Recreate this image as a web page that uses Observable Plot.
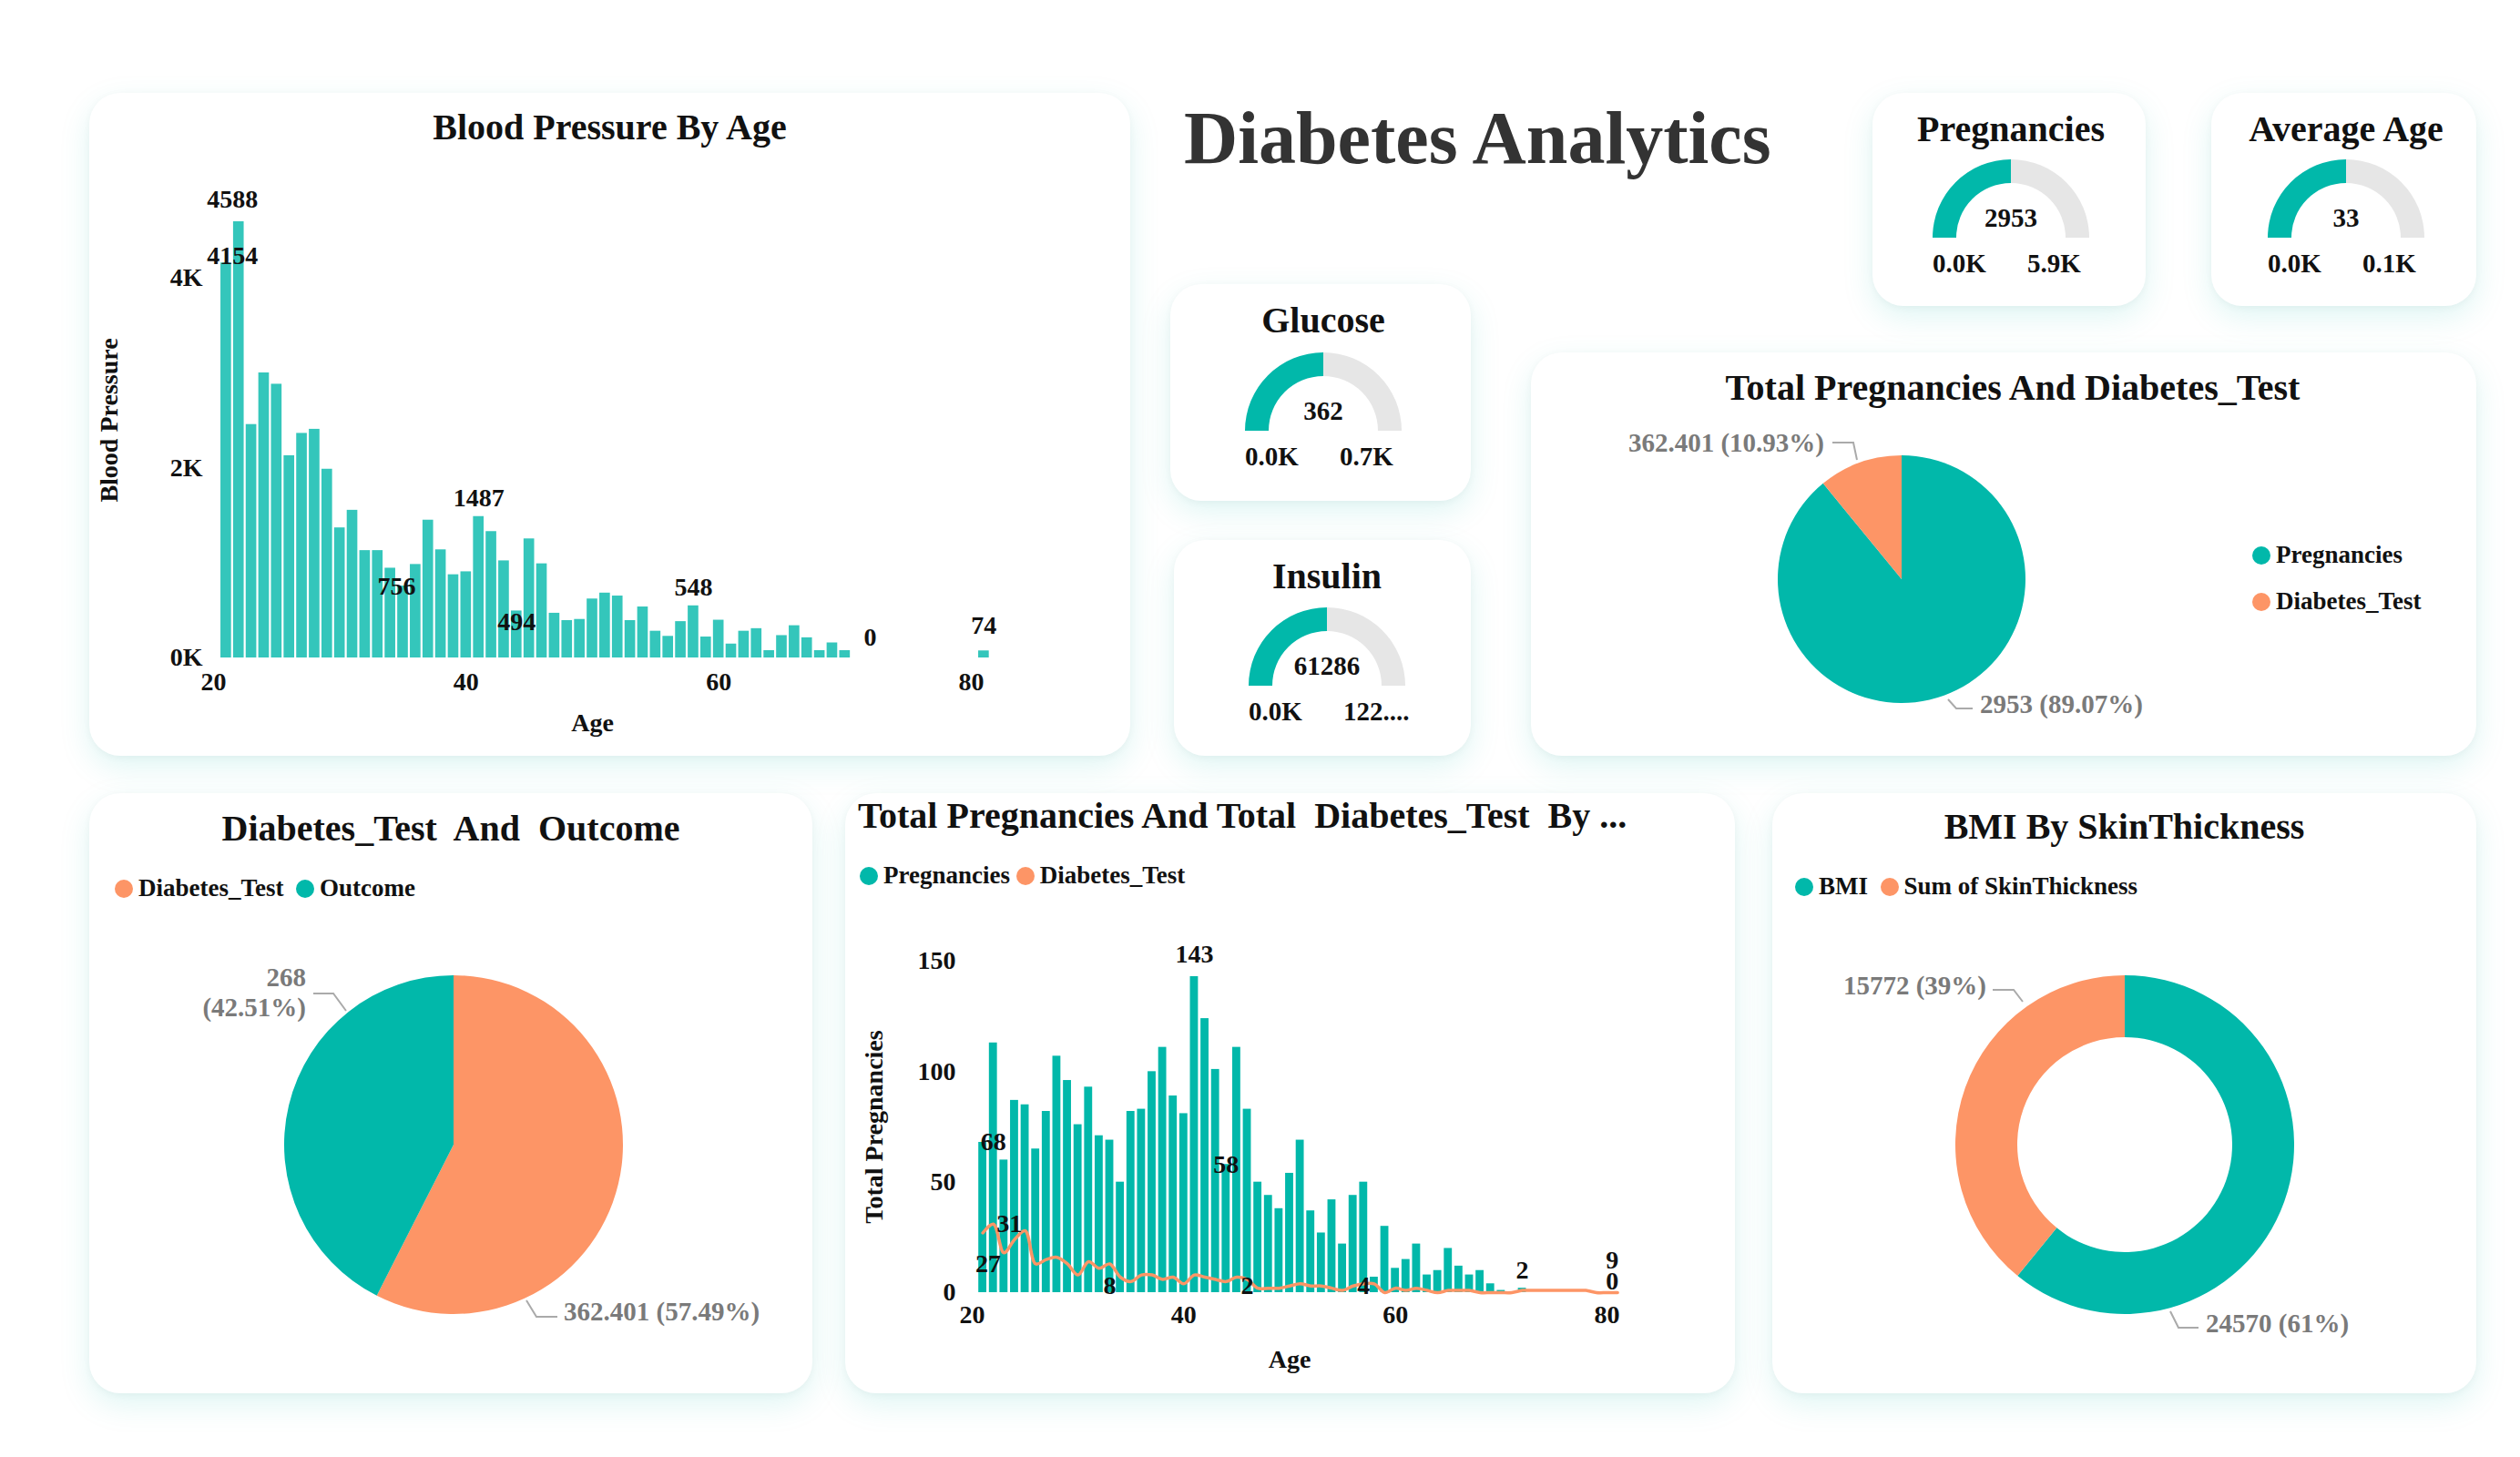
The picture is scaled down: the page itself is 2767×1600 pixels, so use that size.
<!DOCTYPE html>
<html><head><meta charset="utf-8">
<script src="https://cdn.jsdelivr.net/npm/d3@7"></script>
<script src="https://cdn.jsdelivr.net/npm/@observablehq/plot@0.6"></script>
<style>
body{margin:0;background:#fff;width:2767px;height:1600px;position:relative;overflow:hidden;font-family:"Liberation Serif",serif;font-weight:bold;color:#111}
.card{position:absolute;background:#fff;border-radius:34px;box-shadow:0 12px 34px rgba(1,184,170,0.13),0 2px 8px rgba(0,0,0,0.04)}
.t{position:absolute;font-size:40px;white-space:nowrap}
.abs{position:absolute}
svg{overflow:visible}
.lg{position:absolute;font-size:27px;white-space:nowrap;display:flex;align-items:center}
.dot{display:inline-block;width:20px;height:20px;border-radius:50%;margin-right:6px}
</style></head><body>
<script>
const TEAL="#01B8AA", ORANGE="#FD9566", BARTEAL="#34C6BB";
// ---------- data ----------
const bpAges = [...d3.range(21,71), 81];
const bpValues = [4154,4588,2455,2998,2879,2127,2362,2405,1985,1368,1553,1129,1129,944,756,983,1449,1137,875,906,1487,1329,1021,494,1252,990,470,393,405,620,682,651,393,536,281,227,382,548,220,397,146,281,308,77,235,339,212,77,158,77,74];
const bpLabels = [{age:21.5,v:4154,t:"4154",dy:-8},{age:21.5,v:4588,t:"4588",dy:-24},{age:34.5,v:756,t:"756",dy:0},{age:41,v:1487,t:"1487",dy:-20},{age:44,v:494,t:"494",dy:12},{age:58,v:548,t:"548",dy:-20},{age:72,v:0,t:"0",dy:-22},{age:81,v:74,t:"74",dy:-28}];
const pregAges = [...d3.range(21,71), 72];
const pregValues = [68,113,60,87,85,65,82,107,96,76,93,71,69,50,82,83,100,111,89,81,143,124,101,58,111,83,50,44,38,54,69,37,27,42,22,44,50,7,30,11,15,22,8,10,20,12,8,10,4,1,2];
const testAges = d3.range(21,82);
const testValues = [27,31,18,24,28,13,15,16,13,8,14,11,13,7,5,8,8,6,7,4,8,7,6,5,7,6,2,2,2,3,4,3,3,2,1,3,4,4,0,2,1,2,1,0,1,1,1,0,0,0,0,1,1,1,1,1,1,1,0,0,0];
const pregLabels = [{age:41,v:143,t:"143",dy:-24},{age:22,v:68,t:"68",dy:0},{age:44,v:58,t:"58",dy:0},{age:23.5,v:31,t:"31",dy:0},{age:21.5,v:13,t:"27",dy:0},{age:33,v:3,t:"8",dy:0},{age:46,v:3,t:"2",dy:0},{age:57,v:3,t:"4",dy:0},{age:72,v:2,t:"2",dy:-20},{age:80.5,v:9,t:"9",dy:-14},{age:80.5,v:0,t:"0",dy:-12}];
const pie1Cats = ["Pregnancies","Diabetes_Test"], pie1Vals = [2953, 362.401], pie1Labels=["2953 (89.07%)","362.401 (10.93%)"];
const pie2Cats = ["Diabetes_Test","Outcome"], pie2Vals = [362.401, 268], pie2Labels=["362.401 (57.49%)","268 (42.51%)"];
const pie3Cats = ["BMI","Sum of SkinThickness"], pie3Vals = [24570, 15772], pie3Labels=["24570 (61%)","15772 (39%)"];
const gaugeNames = ["Pregnancies","Average Age","Glucose","Insulin"];
const gaugeVals = [2953,33,362,61286];
const gaugeMax = [5906,66,724,122572];
const gaugeMaxLabels = ["5.9K","0.1K","0.7K","122...."];

// ---------- helpers ----------
function add(html){const d=document.createElement("div");d.innerHTML=html;while(d.firstChild)document.body.appendChild(d.firstChild);}
function place(el,x,y){const w=document.createElement("div");w.className="abs";w.style.left=x+"px";w.style.top=y+"px";w.appendChild(el);document.body.appendChild(w);}
const font = {fontFamily:"Liberation Serif",fontWeight:"bold"};

[[98,102,1143,728],[2056,102,300,234],[2428,102,291,234],[1285,312,330,238],[1289,593,326,237],[1681,387,1038,443],[98,871,794,659],[928,871,977,659],[1946,871,773,659]]
 .forEach(([x,y,w,h])=>add(`<div class="card" style="left:${x}px;top:${y}px;width:${w}px;height:${h}px"></div>`));

add(`<div class="t" style="left:1300px;top:105px;font-size:82px;color:#333">Diabetes Analytics</div>`);
add(`<div class="t" style="left:98px;width:1143px;text-align:center;top:116px">Blood Pressure By Age</div>`);
add(`<div class="t" style="left:942px;top:872px">Total Pregnancies And Total&nbsp; Diabetes_Test&nbsp; By ...</div>`);
add(`<div class="t" style="left:98px;width:794px;text-align:center;top:886px">Diabetes_Test&nbsp; And&nbsp; Outcome</div>`);
add(`<div class="t" style="left:1946px;width:773px;text-align:center;top:884px">BMI By SkinThickness</div>`);
add(`<div class="t" style="width:1100px;text-align:center;top:402px;left:1660px">Total Pregnancies And Diabetes_Test</div>`);

// ---------- Blood pressure ----------
const bpData = bpAges.map((a,i)=>({age:a,v:bpValues[i]}));
const bp = Plot.plot({
  width:1143,height:640,marginLeft:136,marginRight:175,marginTop:0,marginBottom:118,
  style:{...font,fontSize:"28px",color:"#111",background:"transparent",overflow:"visible"},
  x:{domain:[20,80],ticks:[20,40,60,80],label:"Age",labelArrow:"none",labelAnchor:"center",labelOffset:80,tickSize:0,tickPadding:16},
  y:{domain:[0,5000],ticks:[0,2000,4000],tickFormat:d=>(d/1000)+"K",label:"Blood Pressure",labelArrow:"none",labelAnchor:"center",tickSize:0,labelOffset:125,tickPadding:12},
  marks:[
    Plot.rectY(bpData,{x1:d=>d.age-0.42,x2:d=>d.age+0.42,y:"v",fill:BARTEAL}),
    ...bpLabels.map(l=>Plot.text([l],{x:"age",y:"v",text:"t",dy:l.dy,fontSize:28,fill:"#111"}))
  ]
});
place(bp,98,200);

// ---------- combo ----------
const pgData = pregAges.map((a,i)=>({age:a,v:pregValues[i]}));
const tsData = testAges.map((a,i)=>({age:a,v:testValues[i]}));
const pg = Plot.plot({
  width:977,height:520,marginLeft:139,marginRight:141,marginTop:55,marginBottom:101,
  style:{...font,fontSize:"28px",color:"#111",background:"transparent",overflow:"visible"},
  x:{domain:[20,80],ticks:[20,40,60,80],label:"Age",labelArrow:"none",labelAnchor:"center",labelOffset:82,tickSize:0,tickPadding:14},
  y:{domain:[0,150],ticks:[0,50,100,150],label:"Total Pregnancies",labelArrow:"none",labelAnchor:"center",tickSize:0,labelOffset:118,tickPadding:18},
  marks:[
    Plot.rectY(pgData,{x1:d=>d.age-0.38,x2:d=>d.age+0.38,y:"v",fill:TEAL}),
    Plot.line(tsData,{x:"age",y:"v",stroke:ORANGE,strokeWidth:3.5,curve:"catmull-rom"}),
    ...pregLabels.map(l=>Plot.text([l],{x:"age",y:"v",text:"t",dy:l.dy,fontSize:28,fill:"#111"}))
  ]
});
place(pg,928,1000);
add(`<div class="lg" style="left:944px;top:946px"><span class="dot" style="background:${TEAL}"></span>Pregnancies&nbsp;<span class="dot" style="background:${ORANGE}"></span>Diabetes_Test</div>`);

// ---------- pies ----------
function pie(cats,vals,colors,r,inner,w,h){
  const data = cats.map((c,i)=>({c,v:vals[i]}));
  const p = Plot.plot({
    width:w,height:h,margin:0,style:{...font,background:"transparent",overflow:"visible"},
    x:{domain:[0,1],axis:null},y:{domain:[0,1],axis:null},
    color:{domain:cats,range:colors},
    marks:[Plot.dot(data,{x:()=>0.5,y:()=>0.5,r:0,fill:"c"})]
  });
  const color = p.scale("color");
  const g=d3.select(p).append("g").attr("transform",`translate(${w/2},${h/2})`);
  const arcs=d3.pie().sort(null).value(d=>d.v)(data);
  const arc=d3.arc().innerRadius(inner).outerRadius(r);
  g.selectAll("path").data(arcs).join("path").attr("d",arc).attr("fill",d=>color.apply(d.data.c));
  return p;
}
function pieLabel(x,y,text,anchor){add(`<div class="t" style="font-size:29px;color:#7a7a7a;${anchor==="end"?"right:"+(2767-x):"left:"+x}px;top:${y}px;text-align:${anchor==="end"?"right":"left"}">${text}</div>`);}
place(pie(pie1Cats,pie1Vals,[TEAL,ORANGE],136,0,300,300),1938,486);
pieLabel(2003,470,pie1Labels[1],"end");
pieLabel(2174,757,pie1Labels[0],"start");
add(`<div class="lg" style="left:2473px;top:594px"><span class="dot" style="background:${TEAL}"></span>Pregnancies</div>`);
add(`<div class="lg" style="left:2473px;top:645px"><span class="dot" style="background:${ORANGE}"></span>Diabetes_Test</div>`);
place(pie(pie2Cats,pie2Vals,[ORANGE,TEAL],186,0,400,400),298,1057);
pieLabel(336,1057,"268<br>(42.51%)","end");
pieLabel(619,1424,pie2Labels[0],"start");
add(`<div class="lg" style="left:126px;top:960px"><span class="dot" style="background:${ORANGE}"></span>Diabetes_Test&nbsp;&nbsp;<span class="dot" style="background:${TEAL}"></span>Outcome</div>`);
place(pie(pie3Cats,pie3Vals,[TEAL,ORANGE],186,118,400,400),2133,1057);
pieLabel(2181,1066,pie3Labels[1],"end");
pieLabel(2422,1437,pie3Labels[0],"start");
add(`<div class="lg" style="left:1971px;top:958px"><span class="dot" style="background:${TEAL}"></span>BMI&nbsp;&nbsp;<span class="dot" style="background:${ORANGE}"></span>Sum of SkinThickness</div>`);
add(`<svg class="abs" style="left:0;top:0;position:absolute" width="2767" height="1600">
<g fill="none" stroke="#aaa" stroke-width="2">
<polyline points="2012,486 2035,486 2039,505"/><polyline points="2139,768 2148,778 2166,778"/>
<polyline points="344,1091 366,1091 380,1110"/><polyline points="578,1428 589,1446 612,1446"/>
<polyline points="2188,1087 2211,1087 2221,1100"/><polyline points="2383,1440 2392,1458 2414,1458"/>
</g></svg>`);

// ---------- gauges ----------
const gPos = [[2208,261,143],[2576,261,143],[1453,473,353],[1457,753,634]];
gaugeNames.forEach((n,i)=>{
  const [cx,cy,ty]=gPos[i];
  add(`<div class="t" style="left:${cx-200}px;width:400px;text-align:center;top:${ty-25}px">${n}</div>`);
  const f = gaugeVals[i]/gaugeMax[i];
  const data=[{k:"value",a0:-Math.PI/2,a1:-Math.PI/2+Math.PI*f},{k:"rest",a0:-Math.PI/2+Math.PI*f,a1:Math.PI/2}];
  const p=Plot.plot({width:200,height:100,margin:0,style:{...font,background:"transparent",overflow:"visible"},
    x:{domain:[0,1],axis:null},y:{domain:[0,1],axis:null},
    color:{domain:["value","rest"],range:[TEAL,"#E6E6E6"]},
    marks:[Plot.dot(data,{x:()=>0.5,y:()=>0.5,r:0,fill:"k"})]});
  const color=p.scale("color");
  const arc=d3.arc().innerRadius(60).outerRadius(86);
  d3.select(p).append("g").attr("transform","translate(100,100)").selectAll("path").data(data).join("path")
    .attr("d",d=>arc({startAngle:d.a0,endAngle:d.a1})).attr("fill",d=>color.apply(d.k));
  place(p,cx-100,cy-100);
  add(`<div class="t" style="font-size:29px;left:${cx-100}px;width:200px;text-align:center;top:${cy-38}px">${gaugeVals[i]}</div>`);
  add(`<div class="t" style="font-size:29px;left:${cx-86}px;top:${cy+12}px">0.0K</div>`);
  add(`<div class="t" style="font-size:29px;left:${cx+18}px;top:${cy+12}px">${gaugeMaxLabels[i]}</div>`);
});
</script>
</body></html>
